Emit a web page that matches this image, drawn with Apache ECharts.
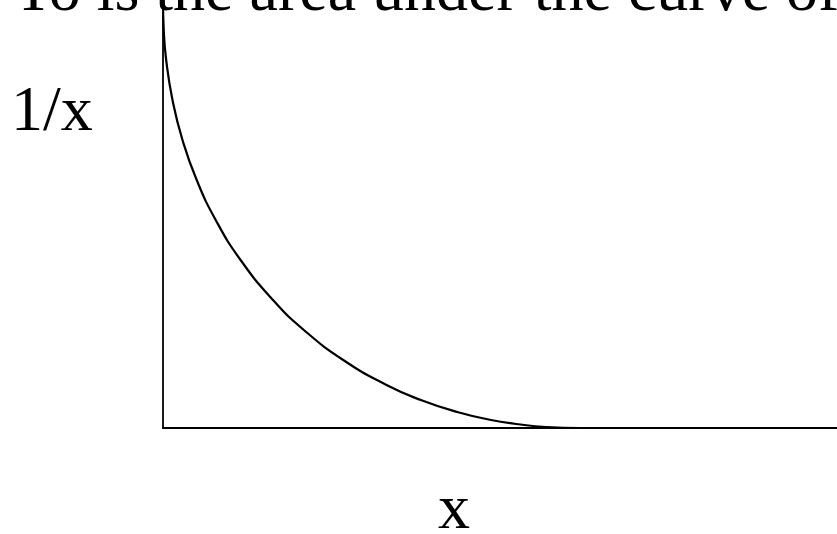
<!DOCTYPE html>
<html>
<head>
<meta charset="utf-8">
<script src="https://cdn.jsdelivr.net/npm/echarts@6/dist/echarts.min.js"></script>
<style>
  html, body { margin: 0; padding: 0; background: #ffffff; }
  #chart { width: 837px; height: 534px; }
</style>
</head>
<body>
<div id="chart"></div>
<script>
// Curve of 1/x sketched against x (arbitrary units, 0..10 on both axes)
var curveX = [0.000, 0.011, 0.047, 0.141, 0.289, 0.500, 0.782, 1.151, 1.632, 2.090, 2.674, 3.316, 3.825, 4.364, 4.866, 5.359, 5.696, 6.187];
var curveY = [10.00, 9.299, 8.598, 7.664, 6.729, 5.794, 4.860, 3.925, 2.991, 2.290, 1.589, 1.005, 0.654, 0.374, 0.187, 0.070, 0.023, 0.000];

var headline = 'To is the area under the curve of';
var yLabel = '1/x';
var xLabel = 'x';

var serif = '"Liberation Serif", "Times New Roman", "DejaVu Serif", serif';
var bigFont = '64px ' + serif;

var points = curveX.map(function (x, i) { return [x, curveY[i]]; });

var chart = echarts.init(document.getElementById('chart'), null, { renderer: 'svg' });

chart.setOption({
  backgroundColor: '#ffffff',
  animation: false,
  grid: { left: 163, right: 0, top: 0, bottom: 106, containLabel: false },
  xAxis: {
    type: 'value', min: 0, max: 10,
    axisLine: { show: true, onZero: false, lineStyle: { color: '#000000', width: 1.8 } },
    axisTick: { show: false }, axisLabel: { show: false }, splitLine: { show: false }
  },
  yAxis: {
    type: 'value', min: 0, max: 10,
    axisLine: { show: true, onZero: false, lineStyle: { color: '#000000', width: 1.8 } },
    axisTick: { show: false }, axisLabel: { show: false }, splitLine: { show: false }
  },
  graphic: [
    { type: 'text', left: 14, top: -44, style: { text: headline, font: bigFont, fill: '#000000' } },
    { type: 'text', left: 11, top: 76, style: { text: yLabel, font: bigFont, fill: '#000000' } },
    { type: 'text', left: 438, top: 474, style: { text: xLabel, font: bigFont, fill: '#000000' } }
  ],
  series: [{
    type: 'line',
    data: points,
    smooth: 0.5,
    showSymbol: false,
    clip: false,
    lineStyle: { color: '#000000', width: 2.2 }
  }]
});
</script>
</body>
</html>
